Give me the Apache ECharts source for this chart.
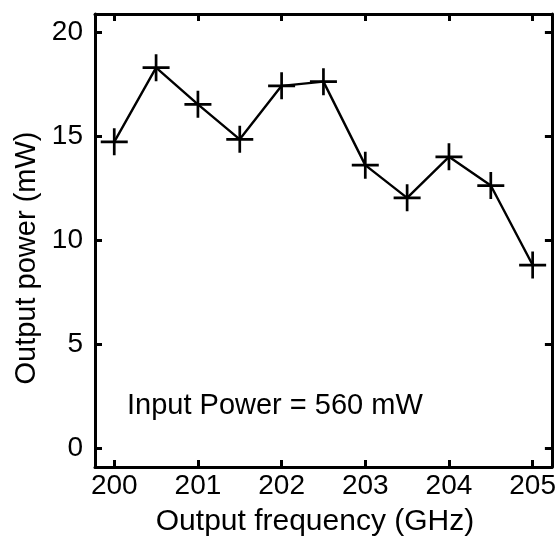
<!DOCTYPE html>
<html>
<head>
<meta charset="utf-8">
<script src="https://cdn.jsdelivr.net/npm/echarts@6/dist/echarts.min.js"></script>
<style>html,body{margin:0;padding:0;background:#fff;}#c{width:559px;height:538px;}</style>
</head>
<body>
<div id="c"></div>
<script>
const frequencies = [200, 200.5, 201, 201.5, 202, 202.5, 203, 203.5, 204, 204.5, 205];
const outputPower = [14.74, 18.30, 16.54, 14.86, 17.43, 17.63, 13.62, 12.05, 14.02, 12.64, 8.82];
const xTicks = [200, 201, 202, 203, 204, 205];
const yTicks = [0, 5, 10, 15, 20];
const xTitle = 'Output frequency (GHz)';
const yTitle = 'Output power (mW)';
const note = 'Input Power = 560 mW';

const FONT = 'Liberation Sans, Arial, Helvetica, sans-serif';
const chart = echarts.init(document.getElementById('c'), null, {renderer: 'canvas'});
const xRange = {min: 199.77, max: 205.23};
const yRange = {min: -0.88, max: 20.88};
const lineStyle = {color: '#000', width: 3};
const tickStyle = {inside: true, length: 7, lineStyle: {color: '#000', width: 3}};

chart.setOption({
  animation: false,
  backgroundColor: '#fff',
  grid: {left: 95, right: 7, top: 14, bottom: 71, containLabel: false},
  xAxis: [{
    type: 'value', ...xRange, position: 'bottom',
    axisLine: {show: true, onZero: false, lineStyle},
    axisTick: {...tickStyle, customValues: xTicks},
    axisLabel: {customValues: xTicks, fontFamily: FONT, fontSize: 28, color: '#000', margin: 5},
    splitLine: {show: false}
  }, {
    type: 'value', ...xRange, position: 'top',
    axisLine: {show: true, onZero: false, lineStyle},
    axisTick: {...tickStyle, customValues: xTicks},
    axisLabel: {show: false},
    splitLine: {show: false}
  }],
  yAxis: [{
    type: 'value', ...yRange, position: 'left',
    axisLine: {show: true, onZero: false, lineStyle},
    axisTick: {...tickStyle, customValues: yTicks},
    axisLabel: {customValues: yTicks, fontFamily: FONT, fontSize: 28, color: '#000', margin: 12},
    splitLine: {show: false}
  }, {
    type: 'value', ...yRange, position: 'right',
    axisLine: {show: true, onZero: false, lineStyle},
    axisTick: {...tickStyle, customValues: yTicks},
    axisLabel: {show: false},
    splitLine: {show: false}
  }],
  series: [{
    type: 'line',
    data: frequencies.map((f, i) => [f, outputPower[i]]),
    xAxisIndex: 0, yAxisIndex: 0,
    lineStyle: {color: '#000', width: 2.4},
    symbol: 'path://M0,45H100V55H0Z M45,0H55V100H45Z',
    symbolSize: 27,
    itemStyle: {color: '#000'},
    showSymbol: true
  }],
  graphic: [{
    type: 'text', left: 127, top: 391,
    style: {text: note, font: '29px ' + FONT, fill: '#000'}
  }, {
    type: 'text', x: 315, y: 522,
    style: {text: xTitle, font: '30px ' + FONT, fill: '#000', textAlign: 'center', textVerticalAlign: 'middle'}
  }, {
    type: 'text', x: 27, y: 258, rotation: Math.PI / 2,
    style: {text: yTitle, font: '29px ' + FONT, fill: '#000', textAlign: 'center', textVerticalAlign: 'middle'}
  }]
});
</script>
</body>
</html>
